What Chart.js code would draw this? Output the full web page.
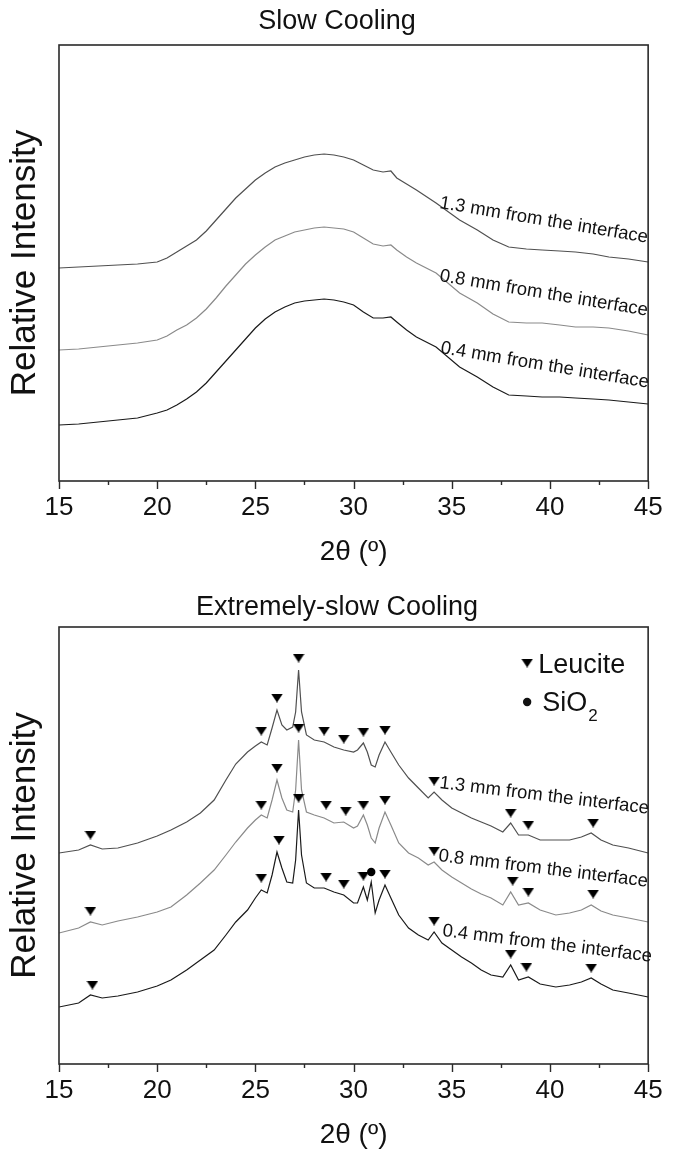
<!DOCTYPE html>
<html>
<head>
<meta charset="utf-8">
<script src="https://cdn.jsdelivr.net/npm/chart.js@4.4.1/dist/chart.umd.min.js"></script>
<style>
  html, body { margin: 0; padding: 0; background: #fff; }
  body { width: 674px; height: 1155px; position: relative; overflow: hidden; }
  canvas { position: absolute; left: 0; }
  #slow { top: 0; }
  #xslow { top: 583px; }
</style>
</head>
<body>
<canvas id="slow" width="674" height="583"></canvas>
<canvas id="xslow" width="674" height="572"></canvas>
<script>
// ---- data (intensity in arbitrary units) ----
const tickLabels = [15, 20, 25, 30, 35, 40, 45];
const minorTicks = [17.5, 22.5, 27.5, 32.5, 37.5, 42.5];
const curveNames = ['1.3 mm from the interface', '0.8 mm from the interface', '0.4 mm from the interface'];

// Slow cooling
const slowTheta = [15, 16, 17, 18, 19, 20, 20.5, 21, 21.5, 22, 22.5, 23, 23.5, 24, 24.5, 25, 25.5, 26, 26.5, 27, 27.5, 28, 28.5, 29, 29.5, 30, 30.5, 31, 31.5,
  31.9, 32.2, 32.7, 33.2, 34.2, 35.4, 36.3, 37.1, 37.9, 38.8, 39.6, 40.5, 41.3, 42.2, 43, 44, 45];
const slow13 = [213, 214, 215, 216, 217, 219, 223, 229, 235, 241, 250, 261, 272, 283, 292, 301, 308, 314, 318, 321, 324, 326, 327, 326, 324, 321, 316, 311, 309,
  310, 303, 297, 291, 278, 261, 251, 241, 234, 232, 231, 230, 229, 227, 224, 222, 219];
const slow08 = [131, 132, 134, 136, 138, 141, 145, 151, 156, 163, 172, 183, 195, 206, 217, 226, 234, 241, 245, 249, 251, 253, 254, 253, 252, 249, 243, 237, 235,
  236, 231, 224, 218, 208, 188, 178, 167, 159, 158, 158, 156, 154, 154, 153, 150, 146];
const slow04 = [56, 57, 59, 61, 63, 68, 71, 76, 82, 89, 98, 109, 120, 131, 142, 153, 162, 169, 174, 178, 180, 181, 182, 181, 179, 176, 169, 163, 163,
  164, 159, 151, 144, 134, 114, 104, 94, 86, 85, 84, 84, 83, 82, 81, 79, 77];
const slowLabelTheta = [34.35, 34.35, 34.4];
const slowLabelVal = [273, 200, 128];

// Extremely-slow cooling
const extTheta = [15, 16, 16.6, 17.2, 18, 19, 20, 20.7, 21.5, 22.2, 22.9, 23.5, 24, 24.6,
  25, 25.3, 25.6, 25.85, 26.1, 26.35, 26.6, 26.9, 27.05, 27.2, 27.35, 27.6,
  28, 28.5, 29, 29.5, 30, 30.2, 30.5, 30.7, 30.9, 31.1, 31.3, 31.6, 31.9,
  32.3, 32.8, 33.3, 33.8, 34.1, 34.5, 35, 35.5, 36, 36.5, 37, 37.6,
  38, 38.4, 38.9, 39.5, 40.3, 41, 41.6, 42.1, 42.6, 43.2, 44, 45];
const ext13 = [211, 214, 219, 215, 216, 221, 228, 234, 242, 251, 264, 284, 300, 312,
  318, 322, 319, 336, 354, 339, 334, 337, 352, 394, 352, 329,
  324, 322, 317, 314, 312, 314, 321, 312, 299, 297, 309, 322, 312,
  299, 286, 276, 266, 272, 264, 256, 251, 246, 242, 238, 232,
  241, 229, 229, 224, 224, 224, 227, 231, 224, 219, 216, 211];
const ext08 = [131, 136, 142, 139, 143, 147, 152, 157, 169, 181, 194, 209, 222, 236,
  244, 249, 246, 264, 284, 266, 254, 252, 274, 324, 274, 252,
  249, 246, 241, 242, 236, 238, 249, 239, 226, 221, 236, 252, 239,
  221, 211, 206, 199, 202, 194, 187, 181, 175, 170, 166, 159,
  172, 159, 161, 154, 149, 151, 154, 159, 153, 149, 146, 142];
const ext04 = [57, 61, 69, 66, 68, 72, 78, 84, 94, 104, 114, 129, 142, 154,
  166, 174, 171, 189, 212, 196, 182, 181, 204, 254, 209, 181,
  176, 176, 172, 169, 161, 161, 177, 164, 182, 151, 164, 179, 166,
  149, 136, 129, 124, 132, 121, 114, 107, 101, 94, 89, 87,
  99, 84, 87, 80, 77, 79, 82, 86, 80, 74, 71, 67];
const extLabelTheta = [34.35, 34.3, 34.5];
const extLabelVal = [276, 203, 128];

// phase markers
const leuTheta13 = [16.6, 25.3, 26.1, 27.2, 28.5, 29.5, 30.5, 31.6, 34.1, 38.0, 38.9, 42.2];
const leuVal13 = [229, 333, 366, 406, 333, 325, 332, 334, 283, 251, 239, 241];
const leuTheta08 = [16.6, 25.3, 26.1, 27.2, 28.6, 29.6, 30.5, 31.6, 34.1, 38.1, 38.9, 42.2];
const leuVal08 = [153, 259, 296, 336, 259, 253, 259, 264, 213, 183, 172, 170];
const leuTheta04 = [16.7, 25.3, 26.2, 27.2, 28.6, 29.5, 30.5, 31.6, 34.1, 38.0, 38.8, 42.1];
const leuVal04 = [79, 186, 224, 266, 187, 180, 188, 190, 143, 110, 97, 96];
const sio2Theta = [30.9];
const sio2Val = [192];

const colors13 = '#505050', colors08 = '#8a8a8a', colors04 = '#1a1a1a';
const FONT = '"Liberation Sans", Arial, Helvetica, sans-serif';

Chart.defaults.font.family = FONT;
Chart.defaults.color = '#111';

function pts(xs, ys) {
  return xs.map((x, i) => ({ x: x, y: ys[i] }));
}

// flat down-pointing triangle used as Leucite marker
function triangleImage(w, h) {
  const c = document.createElement('canvas');
  c.width = w; c.height = h;
  const g = c.getContext('2d');
  g.fillStyle = '#000';
  g.beginPath();
  g.moveTo(0, 0); g.lineTo(w, 0); g.lineTo(w / 2, h);
  g.closePath(); g.fill();
  return c;
}
const tri = triangleImage(12, 9);

function trace(label, xs, ys, color) {
  return { label: label, data: pts(xs, ys), borderColor: color, borderWidth: 1.2, pointRadius: 0, tension: 0, fill: false, order: 2 };
}
function markers(label, xs, ys, style, r) {
  return { label: label, data: pts(xs, ys), showLine: false, pointStyle: style, pointRadius: r,
    backgroundColor: '#000', borderColor: '#000', borderWidth: 0, order: 1 };
}

// frame, tick marks, curve labels and legend
function decorFor(cfg) {
  return {
    id: 'decor',
    afterDraw(chart) {
      const { ctx, chartArea: a, scales: { x, y } } = chart;
      ctx.save();
      ctx.strokeStyle = '#2a2a2a';
      ctx.lineWidth = 1.6;
      ctx.strokeRect(a.left, a.top, a.right - a.left, a.bottom - a.top);

      ctx.lineWidth = 1.4;
      ctx.beginPath();
      tickLabels.forEach(v => {
        const px = Math.round(x.getPixelForValue(v)) + 0.5;
        ctx.moveTo(px, a.bottom); ctx.lineTo(px, a.bottom + 8);
      });
      minorTicks.forEach(v => {
        const px = Math.round(x.getPixelForValue(v)) + 0.5;
        ctx.moveTo(px, a.bottom); ctx.lineTo(px, a.bottom + 4);
      });
      ctx.stroke();

      ctx.fillStyle = '#111';
      ctx.font = '18.5px ' + FONT;
      ctx.textAlign = 'left';
      ctx.textBaseline = 'alphabetic';
      curveNames.forEach((t, i) => {
        ctx.save();
        ctx.translate(x.getPixelForValue(cfg.labelTheta[i]), y.getPixelForValue(cfg.labelVal[i]));
        ctx.rotate(cfg.angle * Math.PI / 180);
        ctx.fillText(t, 0, 0);
        ctx.restore();
      });

      if (cfg.legend) {
        const lx = a.right - 121;
        ctx.drawImage(tri, lx - 6, a.top + 36 - 4.5);
        ctx.beginPath();
        ctx.arc(lx, a.top + 75, 4.2, 0, Math.PI * 2);
        ctx.fill();
        ctx.font = '27px ' + FONT;
        ctx.fillText('Leucite', a.right - 110, a.top + 46);
        ctx.fillText('SiO', a.right - 106, a.top + 84);
        const w = ctx.measureText('SiO').width;
        ctx.font = '17px ' + FONT;
        ctx.fillText('2', a.right - 106 + w + 1, a.top + 94);
      }
      ctx.restore();
    }
  };
}

function panel(id, cfg) {
  return new Chart(document.getElementById(id).getContext('2d'), {
    type: 'line',
    data: { datasets: cfg.datasets },
    options: {
      responsive: false,
      animation: false,
      devicePixelRatio: 1,
      layout: { padding: { left: 21, right: 21, top: 0, bottom: 0 } },
      plugins: {
        legend: { display: false },
        tooltip: { enabled: false },
        title: { display: true, text: cfg.title, color: '#111', font: { size: 27, weight: 'normal' }, padding: cfg.titlePad }
      },
      scales: {
        x: {
          type: 'linear', min: 15, max: 45,
          grid: { display: false, drawTicks: false },
          border: { display: false },
          ticks: { stepSize: 5, color: '#111', font: { size: 26 }, padding: 11.4, maxRotation: 0, autoSkip: false },
          title: { display: true, text: '2θ (º)', color: '#111', font: { size: 28 }, padding: { top: 0, bottom: cfg.xTitlePad } },
          afterFit: s => { s.height = cfg.xHeight; }
        },
        y: {
          min: 0, max: cfg.yMax,
          grid: { display: false, drawTicks: false },
          border: { display: false },
          ticks: { display: false },
          title: { display: true, text: 'Relative Intensity', color: '#111', font: { size: 35 }, padding: { top: -17, bottom: 0 } },
          afterFit: s => { s.width = 38; }
        }
      }
    },
    plugins: [decorFor(cfg)]
  });
}

panel('slow', {
  title: 'Slow Cooling',
  titlePad: { top: 5.8, bottom: 6.8 },
  xHeight: 102, xTitlePad: 14.2, yMax: 436,
  labelTheta: slowLabelTheta, labelVal: slowLabelVal, angle: 9.5, legend: false,
  datasets: [
    trace(curveNames[0], slowTheta, slow13, colors13),
    trace(curveNames[1], slowTheta, slow08, colors08),
    trace(curveNames[2], slowTheta, slow04, colors04)
  ]
});

panel('xslow', {
  title: 'Extremely-slow Cooling',
  titlePad: { top: 8.8, bottom: 2.8 },
  xHeight: 91, xTitlePad: 3.2, yMax: 437,
  labelTheta: extLabelTheta, labelVal: extLabelVal, angle: 7, legend: true,
  datasets: [
    markers('Leucite 1.3', leuTheta13, leuVal13, tri, 5),
    markers('Leucite 0.8', leuTheta08, leuVal08, tri, 5),
    markers('Leucite 0.4', leuTheta04, leuVal04, tri, 5),
    markers('SiO2', sio2Theta, sio2Val, 'circle', 4.2),
    trace(curveNames[0], extTheta, ext13, colors13),
    trace(curveNames[1], extTheta, ext08, colors08),
    trace(curveNames[2], extTheta, ext04, colors04)
  ]
});
</script>
</body>
</html>
